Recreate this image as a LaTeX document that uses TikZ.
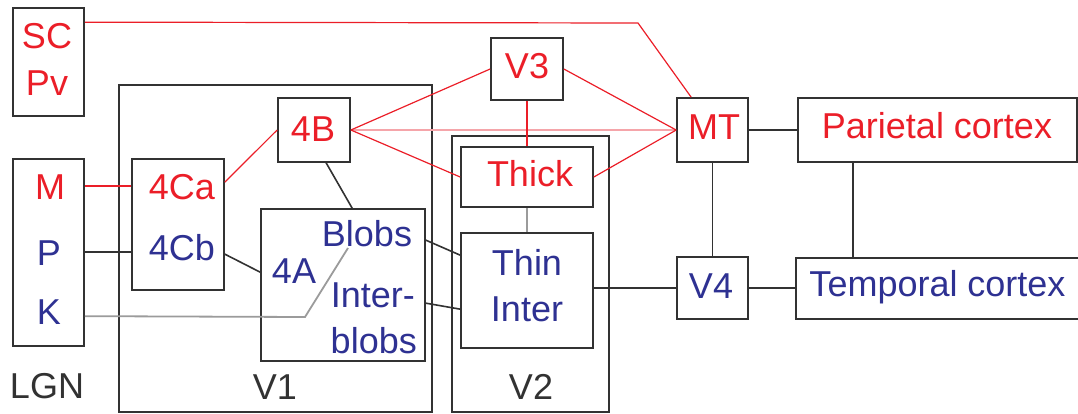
\documentclass[tikz,border=0pt]{standalone}
\usepackage{fontspec}
\setmainfont{Liberation Sans}
\definecolor{rd}{RGB}{235,30,40}
\definecolor{bl}{RGB}{46,49,146}
\definecolor{dk}{RGB}{50,50,50}
\definecolor{gy}{RGB}{155,155,155}
\definecolor{pr}{RGB}{245,165,170}
\begin{document}
\begin{tikzpicture}[x=1pt,y=-1pt,
  box/.style={draw=dk,line width=1.7pt,inner sep=0pt,fill=none},
  txt/.style={inner sep=0pt,text height=26pt,text depth=0pt,font=\fontsize{36}{40}\selectfont},
  rtxt/.style={txt,text=rd},
  btxt/.style={txt,text=bl},
  ktxt/.style={txt,text=dk},
  rline/.style={draw=rd,line width=1.2pt},
  kline/.style={draw=dk,line width=1.6pt},
  gline/.style={draw=gy,line width=1.8pt},
  pline/.style={draw=pr,line width=2.6pt}]
\useasboundingbox (0,0) rectangle (1078,413);
% boxes
\node[box,minimum width=71pt,minimum height=108pt] (scpv) at (48.5,62) {};
\node[box,minimum width=71pt,minimum height=187pt] (lgn) at (48.5,252.5) {};
\node[box,minimum width=313pt,minimum height=327pt] (v1) at (275.5,248.5) {};
\node[box,minimum width=72pt,minimum height=64pt] (b4) at (314,130) {};
\node[box,minimum width=92pt,minimum height=131pt] (c4) at (178,224.5) {};
\node[box,minimum width=164pt,minimum height=152pt] (a4) at (343,285) {};
\node[box,minimum width=157pt,minimum height=276pt] (v2) at (530.5,274) {};
\node[box,minimum width=72pt,minimum height=62pt] (v3) at (527,69) {};
\node[box,minimum width=71pt,minimum height=64pt] (mt) at (712.5,130) {};
\node[box,minimum width=132pt,minimum height=60pt] (thick) at (527,177) {};
\node[box,minimum width=132pt,minimum height=115pt] (thin) at (527,290.5) {};
\node[box,minimum width=71pt,minimum height=62pt] (v4) at (712.5,288) {};
\node[box,minimum width=279pt,minimum height=64pt] (par) at (937.5,130) {};
\node[box,minimum width=284pt,minimum height=61pt] (tem) at (938,288.5) {};
% texts
\node[rtxt] (SC) at (47,35) {SC};
\node[rtxt] (Pv) at (47,82) {Pv};
\node[rtxt] (M) at (50,186) {M};
\node[btxt] (P) at (49,252) {P};
\node[btxt] (K) at (49,311) {K};
\node[ktxt] (LGN) at (47,385) {LGN};
\node[rtxt] (C4a) at (182,186) {4Ca};
\node[btxt] (C4b) at (182,247) {4Cb};
\node[rtxt] (B4) at (313,128) {4B};
\node[btxt] (blobs) at (367,233) {Blobs};
\node[btxt] (A4) at (294,270) {4A};
\node[btxt,anchor=east] (inter) at (415,294) {Inter-};
\node[btxt,anchor=east] (iblobs) at (417,340) {blobs};
\node[ktxt] (V1) at (275,386) {V1};
\node[rtxt] (V3) at (527,65) {V3};
\node[rtxt] (MT) at (714,126) {MT};
\node[rtxt] (Thick) at (530,173) {Thick};
\node[btxt] (Thin) at (527,262) {Thin};
\node[btxt] (Inter) at (527,308) {Inter};
\node[ktxt] (V2) at (531,386) {V2};
\node[btxt] (V4) at (711,285) {V4};
\node[rtxt] (Par) at (937,125) {Parietal cortex};
\node[btxt] (Tem) at (937.5,283.5) {Temporal cortex};
% helper coordinates
\coordinate (scb) at (638,23);
\coordinate (kb) at (305,317);
\coordinate (ke) at (348,248);
% connectors
\draw[rline] ([yshift=-15pt]scpv.north east) -- (scb) -- ([xshift=15pt]mt.north west);
\draw[rline] (lgn.east |- M) -- (c4.west |- M);
\draw[kline] (lgn.east |- P) -- (c4.west |- P);
\draw[gline] ([yshift=-158pt]lgn.north east) -- (kb) -- (ke);
\draw[kline] ([yshift=-96pt]c4.north east) -- ([yshift=-64pt]a4.north west);
\draw[rline] ([yshift=-24pt]c4.north east) -- (b4.west);
\draw[kline] ([xshift=49pt]b4.south west) -- ([xshift=92pt]a4.north west);
\draw[pline] (b4.east) -- (mt.west);
\draw[rline] (b4.east) -- (v3.west);
\draw[rline] (b4.east) -- (thick.west);
\draw[rline] (v3.east) -- (mt.west);
\draw[rline] (thick.east) -- (mt.west);
\draw[rline] (v3.south) -- (thick.north);
\draw[gline] (thick.south) -- (thin.north);
\draw[kline] ([yshift=-32pt]a4.north east) -- ([yshift=-23pt]thin.north west);
\draw[kline] ([yshift=-95pt]a4.north east) -- ([yshift=-77pt]thin.north west);
\draw[kline] (thin.east |- v4.west) -- (v4.west);
\draw[kline] (mt.south) -- (v4.north);
\draw[kline] (mt.east) -- (par.west);
\draw[kline] (v4.east) -- (tem.west |- v4.east);
\draw[kline] ([xshift=56pt]par.south west) -- ([xshift=56pt]par.south west |- tem.north);
\end{tikzpicture}
\end{document}
